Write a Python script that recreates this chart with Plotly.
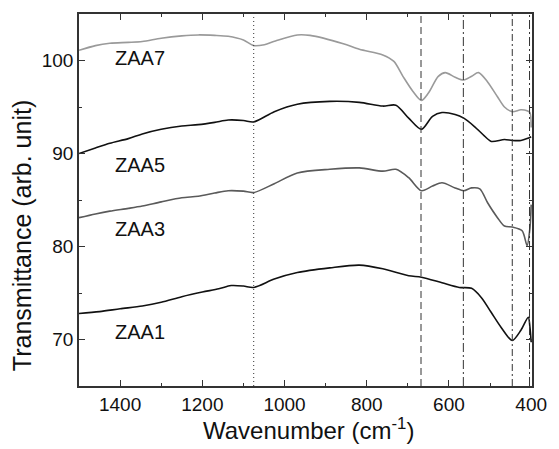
import plotly.graph_objects as go

# ---- data ----
w_zaa7 = [1500, 1460, 1425, 1380, 1346, 1300, 1250, 1210, 1170, 1137, 1100, 1075, 1049, 1022, 969, 938, 857, 818, 761, 734, 712, 688, 667, 650, 626, 609, 585, 564, 545, 528, 506, 482, 465, 446, 425, 410, 403, 400]
t_zaa7 = [101.1, 101.6, 101.85, 101.95, 102.05, 102.4, 102.65, 102.75, 102.7, 102.6, 102.2, 101.6, 101.7, 102.1, 102.75, 102.7, 101.8, 101.2, 100.6, 99.9, 98.3, 96.7, 95.7, 96.5, 98.3, 98.7, 98.2, 97.9, 98.3, 98.7, 97.7, 96.1, 95.0, 94.5, 94.7, 94.6, 94.4, 92.8]

w_zaa5 = [1500, 1460, 1425, 1380, 1346, 1300, 1250, 1210, 1170, 1137, 1100, 1075, 1025, 969, 890, 818, 761, 729, 698, 667, 640, 617, 585, 564, 538, 514, 497, 465, 446, 425, 410, 400]
t_zaa5 = [90.0, 90.6, 91.1, 91.6, 92.1, 92.6, 92.95, 93.1, 93.35, 93.6, 93.55, 93.4, 94.5, 95.3, 95.6, 95.5, 95.1, 95.2, 93.8, 92.6, 94.0, 94.4, 94.2, 93.8, 92.9, 91.9, 91.3, 91.5, 91.4, 91.4, 91.6, 91.8]

w_zaa3 = [1500, 1460, 1425, 1380, 1346, 1300, 1250, 1210, 1170, 1137, 1100, 1075, 1025, 969, 890, 818, 761, 729, 698, 667, 640, 617, 585, 564, 545, 525, 506, 482, 465, 446, 422, 410, 403, 400]
t_zaa3 = [83.1, 83.5, 83.8, 84.1, 84.35, 84.8, 85.25, 85.4, 85.75, 86.0, 85.95, 85.8, 86.75, 87.9, 88.3, 88.45, 88.1, 88.3, 87.4, 86.0, 86.5, 86.85, 86.3, 86.0, 86.3, 86.2, 84.7, 83.1, 82.2, 82.1, 81.7, 80.1, 82.0, 84.5]

w_zaa1 = [1500, 1450, 1400, 1346, 1300, 1250, 1200, 1160, 1130, 1100, 1075, 1025, 969, 890, 818, 761, 698, 667, 617, 575, 545, 521, 497, 473, 446, 425, 407, 403, 400]
t_zaa1 = [72.8, 73.0, 73.3, 73.6, 74.0, 74.6, 75.1, 75.45, 75.8, 75.75, 75.6, 76.5, 77.2, 77.7, 78.0, 77.6, 76.85, 76.7, 76.1, 75.6, 75.5, 74.5, 72.9, 71.3, 69.9, 71.0, 72.4, 71.3, 69.7]

series_names = ["ZAA7", "ZAA5", "ZAA3", "ZAA1"]
label_pos_w = [1352, 1352, 1352, 1352]
label_pos_t = [100.3, 88.75, 81.9, 70.85]

vline_positions = [1075, 668, 565, 446, 404]
vline_styles = ["1px,3px", "7px,4px", "9px,3px,2px,3px", "7px,3px,2px,3px", "9px,3px,2px,3px"]

x_ticks = [1400, 1200, 1000, 800, 600, 400]
y_ticks = [70, 80, 90, 100]

FONT = "Liberation Sans, Arial, sans-serif"
colors = ["#9a9a9a", "#111111", "#5a5a5a", "#111111"]
ws = [w_zaa7, w_zaa5, w_zaa3, w_zaa1]
ts = [t_zaa7, t_zaa5, t_zaa3, t_zaa1]

fig = go.Figure()
for name, w, t, c in zip(series_names, ws, ts, colors):
    fig.add_trace(go.Scatter(x=w, y=t, mode="lines", name=name,
                             line=dict(color=c, width=1.6, shape="spline", smoothing=0.8),
                             showlegend=False))

for xv, st in zip(vline_positions, vline_styles):
    fig.add_vline(x=xv, line=dict(color="#333333", width=1, dash=st))

for name, lw, lt in zip(series_names, label_pos_w, label_pos_t):
    fig.add_annotation(x=lw, y=lt, text=name, showarrow=False,
                       font=dict(family=FONT, size=20, color="#111111"),
                       xanchor="center", yanchor="middle")

fig.add_annotation(xref="paper", yref="paper", x=0.507, y=-0.115,
                   text="Wavenumber (cm<sup>-1</sup>)", showarrow=False,
                   font=dict(family=FONT, size=24, color="#111111"),
                   xanchor="center", yanchor="middle")
fig.add_annotation(xref="paper", yref="paper", x=-0.124, y=0.405,
                   text="Transmittance (arb. unit)", showarrow=False, textangle=-90,
                   font=dict(family=FONT, size=25, color="#111111"),
                   xanchor="center", yanchor="middle")

axis_common = dict(showline=True, linecolor="#333333", linewidth=1.5, mirror="ticks",
                   ticks="inside", ticklen=6, tickwidth=1.3, tickcolor="#333333",
                   showgrid=False, zeroline=False,
                   tickfont=dict(family=FONT, size=19, color="#111111"))

fig.update_xaxes(range=[1500, 398], tickvals=x_ticks,
                 minor=dict(ticks="inside", dtick=100, tick0=0, ticklen=3.5, tickcolor="#333333"),
                 **axis_common)
fig.update_yaxes(range=[65, 105], tickvals=y_ticks,
                 minor=dict(ticks="inside", dtick=5, tick0=0, ticklen=3.5, tickcolor="#333333"),
                 **axis_common)

fig.update_layout(width=559, height=449, margin=dict(l=79, r=20, t=13, b=63),
                  plot_bgcolor="white", paper_bgcolor="white")

fig.write_html("out.html", config={"displayModeBar": False},
               post_script="document.body.style.margin='0';document.body.style.overflow='hidden';")
